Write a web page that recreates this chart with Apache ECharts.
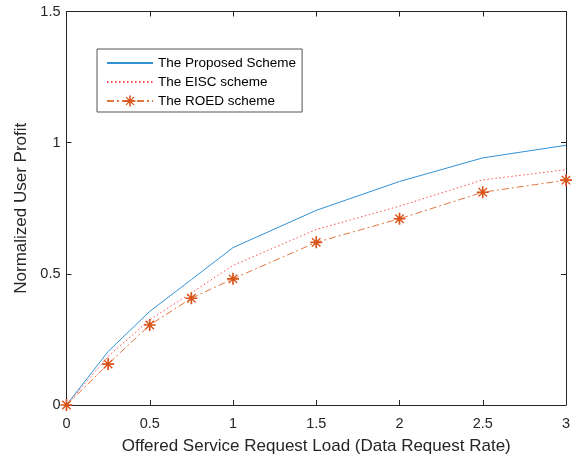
<!DOCTYPE html>
<html>
<head>
<meta charset="utf-8">
<script src="https://cdn.jsdelivr.net/npm/echarts@6/dist/echarts.min.js"></script>
<style>
  html, body { margin: 0; padding: 0; background: #fff; }
  #chart { width: 576px; height: 455px; }
</style>
</head>
<body>
<div id="chart"></div>
<script>
// Offered load (x) and normalized profit per scheme
const loads = [0, 0.25, 0.5, 0.75, 1, 1.5, 2, 2.5, 3];
const proposed = [0, 0.204, 0.357, 0.478, 0.6, 0.742, 0.852, 0.942, 0.99];
const eisc = [0, 0.185, 0.325, 0.427, 0.532, 0.669, 0.758, 0.858, 0.897];
const roed = [0, 0.156, 0.305, 0.407, 0.481, 0.62, 0.71, 0.811, 0.857];

const xTicks = [0, 0.5, 1, 1.5, 2, 2.5, 3];
const yTicks = [0, 0.5, 1, 1.5];

const ink = '#262626';
const font = 'Liberation Sans, Arial, Helvetica, sans-serif';

// asterisk made of four bars (plus + cross)
const asterisk = 'path://M0 8.6L20 8.6L20 11.4L0 11.4Z' +
  'M8.6 0L11.4 0L11.4 20L8.6 20Z' +
  'M2.2 3.8L3.8 2.2L17.8 16.2L16.2 17.8Z' +
  'M16.2 2.2L17.8 3.8L3.8 17.8L2.2 16.2Z';

const pairs = ys => loads.map((x, i) => [x, ys[i]]);

const chart = echarts.init(document.getElementById('chart'), null, { renderer: 'canvas' });

// top/right axes only close the box
const boxAxis = {
  axisLine: { show: true, onZero: false, lineStyle: { color: ink, width: 1 } },
  axisTick: { show: true, inside: true, length: 5, lineStyle: { color: ink } },
  axisLabel: { show: false },
  splitLine: { show: false }
};

const noMarker = { color: 'rgba(0,0,0,0)', borderWidth: 0 };

chart.setOption({
  animation: false,
  textStyle: { fontFamily: font },
  grid: { left: 66.5, right: 10, top: 11.5, bottom: 50, containLabel: false, outerBoundsMode: 'none' },
  legend: {
    orient: 'vertical',
    left: 97,
    top: 49,
    padding: [7, 6, 4, 9],
    itemWidth: 46,
    itemHeight: 14,
    itemGap: 5,
    borderColor: '#555',
    borderWidth: 1,
    backgroundColor: '#fff',
    textStyle: { fontSize: 13.5, color: '#000', fontFamily: font },
    data: [
      { name: 'The Proposed Scheme', itemStyle: noMarker },
      { name: 'The EISC scheme', itemStyle: noMarker },
      { name: 'The ROED scheme' }
    ]
  },
  xAxis: [{
    type: 'value',
    min: xTicks[0],
    max: xTicks[xTicks.length - 1],
    interval: 0.5,
    name: 'Offered Service Request Load (Data Request Rate)',
    nameLocation: 'middle',
    nameGap: 33,
    nameTextStyle: { fontSize: 17, color: ink, fontFamily: font },
    axisLine: { show: true, onZero: false, lineStyle: { color: ink, width: 1 } },
    axisTick: { show: true, inside: true, length: 5, lineStyle: { color: ink } },
    axisLabel: { fontSize: 14.5, color: ink, margin: 11, fontFamily: font },
    splitLine: { show: false }
  }, Object.assign({
    type: 'value', position: 'top',
    min: xTicks[0], max: xTicks[xTicks.length - 1], interval: 0.5
  }, boxAxis)],
  yAxis: [{
    type: 'value',
    min: yTicks[0],
    max: yTicks[yTicks.length - 1],
    interval: 0.5,
    name: 'Normalized User Profit',
    nameLocation: 'middle',
    nameGap: 27,
    nameTextStyle: { fontSize: 17, color: ink, fontFamily: font },
    axisLine: { show: true, onZero: false, lineStyle: { color: ink, width: 1 } },
    axisTick: { show: true, inside: true, length: 5, lineStyle: { color: ink } },
    axisLabel: { fontSize: 14.5, color: ink, margin: 6, fontFamily: font },
    splitLine: { show: false }
  }, Object.assign({
    type: 'value', position: 'right',
    min: yTicks[0], max: yTicks[yTicks.length - 1], interval: 0.5
  }, boxAxis)],
  series: [
    {
      name: 'The Proposed Scheme',
      type: 'line',
      data: pairs(proposed),
      symbol: 'none',
      lineStyle: { color: '#3391d6', width: 1 },
      itemStyle: { color: '#3391d6' }
    },
    {
      name: 'The EISC scheme',
      type: 'line',
      data: pairs(eisc),
      symbol: 'none',
      lineStyle: { color: '#ff4d4d', width: 1, type: [1.5, 2.5] },
      itemStyle: { color: '#ff4d4d' }
    },
    {
      name: 'The ROED scheme',
      type: 'line',
      data: pairs(roed),
      symbol: asterisk,
      symbolSize: 12,
      showAllSymbol: true,
      lineStyle: { color: '#e0763f', width: 1, type: [7, 3, 2, 3] },
      itemStyle: { color: '#D95319' },
      z: 3
    }
  ]
});
</script>
</body>
</html>
